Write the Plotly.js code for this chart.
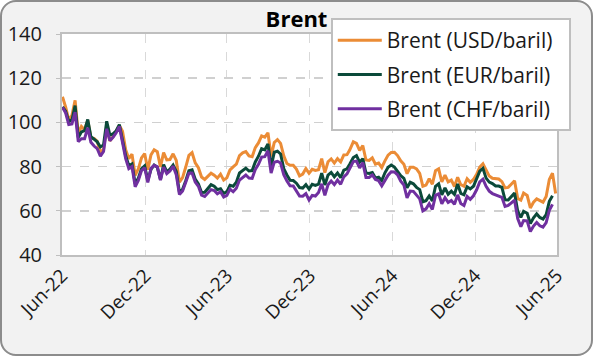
<!DOCTYPE html>
<html>
<head>
<meta charset="utf-8">
<script src="https://cdn.plot.ly/plotly-3.0.1.min.js"></script>
<style>
html,body{margin:0;padding:0;background:#ffffff;}
#frame{position:absolute;left:0;top:0;width:589px;height:352px;border:2px solid #8c8c8c;border-radius:16px;background:#f2f2f2;overflow:hidden;}
#chart{position:absolute;left:-2px;top:-2px;width:593px;height:356px;}
</style>
</head>
<body>
<div id="frame"><div id="chart"></div></div>
<script>
const dates = [
"2022-07-01","2022-07-08","2022-07-15","2022-07-22","2022-07-29","2022-08-05","2022-08-12","2022-08-19","2022-08-26","2022-09-02",
"2022-09-09","2022-09-16","2022-09-23","2022-09-30","2022-10-07","2022-10-14","2022-10-21","2022-10-28","2022-11-04","2022-11-11",
"2022-11-18","2022-11-25","2022-12-02","2022-12-09","2022-12-16","2022-12-23","2022-12-30",
"2023-01-06","2023-01-13","2023-01-20","2023-01-27","2023-02-03","2023-02-10","2023-02-17","2023-02-24","2023-03-03","2023-03-10",
"2023-03-17","2023-03-24","2023-03-31","2023-04-07","2023-04-14","2023-04-21","2023-04-28","2023-05-05","2023-05-12","2023-05-19",
"2023-05-26","2023-06-02","2023-06-09","2023-06-16","2023-06-23","2023-06-30","2023-07-07","2023-07-14","2023-07-21","2023-07-28",
"2023-08-04","2023-08-11","2023-08-18","2023-08-25","2023-09-01","2023-09-08","2023-09-15","2023-09-22","2023-09-29","2023-10-06",
"2023-10-13","2023-10-20","2023-10-27","2023-11-03","2023-11-10","2023-11-17","2023-11-24","2023-12-01","2023-12-08","2023-12-15",
"2023-12-22","2023-12-29",
"2024-01-05","2024-01-12","2024-01-19","2024-01-26","2024-02-02","2024-02-09","2024-02-16","2024-02-23","2024-03-01","2024-03-08",
"2024-03-15","2024-03-22","2024-03-28","2024-04-05","2024-04-12","2024-04-19","2024-04-26","2024-05-03","2024-05-10","2024-05-17",
"2024-05-24","2024-05-31","2024-06-07","2024-06-14","2024-06-21","2024-06-28","2024-07-05","2024-07-12","2024-07-19","2024-07-26",
"2024-08-02","2024-08-09","2024-08-16","2024-08-23","2024-08-30","2024-09-06","2024-09-13","2024-09-20","2024-09-27","2024-10-04",
"2024-10-11","2024-10-18","2024-10-25","2024-11-01","2024-11-08","2024-11-15","2024-11-22","2024-11-29","2024-12-06","2024-12-13",
"2024-12-20","2024-12-27",
"2025-01-03","2025-01-10","2025-01-17","2025-01-24","2025-01-31","2025-02-07","2025-02-14","2025-02-21","2025-02-28","2025-03-07",
"2025-03-14","2025-03-21","2025-03-28","2025-04-04","2025-04-11","2025-04-17","2025-04-25","2025-05-02","2025-05-09","2025-05-16",
"2025-05-23","2025-05-30","2025-06-06","2025-06-13","2025-06-20","2025-06-27"
];

const brentUSD = [
111.6,107.0,101.2,103.2,110.0,94.9,98.2,96.7,101.0,93.0,
92.8,91.4,86.2,88.0,97.9,91.6,93.5,95.8,98.6,96.0,
87.6,83.6,85.6,76.1,79.0,83.9,85.9,
78.6,85.3,87.6,86.7,79.9,86.4,83.0,83.2,85.8,82.8,
73.0,75.0,79.8,85.1,86.3,81.7,79.5,75.3,74.2,75.6,
77.0,76.1,74.8,76.6,73.9,74.9,78.5,79.9,81.1,85.0,
86.2,86.8,84.8,84.5,88.6,90.7,93.9,93.3,95.3,84.6,
90.9,92.2,90.5,84.9,81.4,80.6,80.6,78.9,75.8,76.6,
79.1,77.0,
78.8,78.3,78.6,83.6,77.3,82.2,83.5,81.6,83.6,82.1,
85.3,85.4,87.5,91.2,90.5,87.3,89.5,83.0,82.8,84.0,
81.1,81.6,79.6,82.6,85.2,86.4,86.5,85.0,82.6,81.1,
76.8,79.7,79.7,79.0,76.9,71.1,71.6,74.5,72.0,78.1,
79.0,73.1,76.1,73.1,73.9,71.0,75.2,71.8,71.1,74.5,
72.9,74.2,
76.5,79.8,81.3,78.5,75.7,74.7,74.7,74.4,73.2,70.4,
70.6,72.2,73.6,65.6,64.8,68.0,66.9,61.3,63.9,65.4,
64.8,63.9,66.5,74.2,77.0,67.8
];

const brentEUR = [
107.0,105.1,100.4,101.1,107.6,93.2,95.7,96.3,101.3,93.5,
92.4,91.2,88.9,89.8,100.5,94.3,94.8,96.2,99.0,92.7,
84.9,80.4,81.2,72.3,74.7,79.0,80.3,
73.8,78.7,80.7,79.7,74.1,80.9,77.6,78.8,80.7,77.8,
68.4,69.7,73.6,78.1,78.5,74.3,72.2,68.3,68.4,70.0,
71.8,71.1,69.6,70.0,67.8,68.7,71.5,71.1,72.9,77.1,
78.3,79.3,78.0,78.2,82.1,84.7,88.1,87.6,90.2,79.9,
86.5,87.0,85.7,79.1,76.2,73.8,73.7,72.5,70.5,70.3,
71.8,69.8,
72.0,71.5,72.1,77.0,71.7,76.2,77.4,75.4,77.1,75.0,
78.4,79.0,81.1,84.1,85.0,82.0,83.6,77.1,76.9,77.3,
74.8,75.2,73.7,77.2,79.7,80.7,79.8,77.9,75.9,74.7,
70.4,72.9,72.2,70.6,69.6,64.1,64.6,66.7,64.5,71.1,
72.2,67.2,70.4,67.5,68.9,67.4,72.1,67.9,67.3,70.9,
69.9,71.1,
74.2,77.9,79.2,74.8,73.0,72.3,71.2,71.2,70.6,65.0,
64.9,66.7,68.0,59.8,57.0,59.8,58.9,54.2,56.8,58.6,
57.0,56.3,58.3,64.3,66.8
];

const brentCHF = [
106.9,104.3,99.0,99.3,104.6,91.3,92.6,92.6,97.6,91.0,
89.3,88.1,84.7,86.9,97.1,91.7,93.3,95.3,98.2,90.3,
83.6,79.1,80.0,70.9,73.7,78.2,79.5,
72.8,79.2,80.6,79.9,73.9,79.8,76.8,78.0,80.2,76.3,
67.4,69.0,72.9,77.0,77.1,73.0,71.1,67.1,66.5,67.9,
69.6,69.2,67.7,68.6,66.2,67.0,69.8,68.6,70.2,73.9,
75.2,76.2,74.8,74.7,78.7,81.0,84.3,84.5,87.2,77.1,
82.0,82.4,81.6,76.3,73.5,71.3,71.2,68.9,66.7,66.6,
67.8,64.9,
67.0,66.7,68.3,72.2,67.0,71.8,73.5,71.9,73.9,72.0,
75.4,76.7,78.9,82.3,82.5,79.4,81.8,75.1,75.1,76.2,
74.2,73.6,71.3,73.6,76.1,77.7,77.6,76.3,73.4,71.7,
65.8,68.9,68.8,67.1,65.4,60.0,60.9,63.2,60.6,67.0,
67.7,63.2,65.9,63.8,64.7,63.0,67.2,63.3,62.4,66.5,
65.2,66.8,
69.5,73.1,74.3,71.1,68.9,67.8,67.2,66.8,66.1,62.0,
62.4,63.6,64.8,56.5,52.8,55.6,55.4,50.6,53.1,54.7,
53.2,52.6,54.6,60.2,62.9
];

const seriesNames = ["Brent (USD/baril)", "Brent (EUR/baril)", "Brent (CHF/baril)"];
const tickVals = ["2022-06-30","2022-12-31","2023-06-30","2023-12-31","2024-06-30","2024-12-31","2025-06-30"];
const tickText = ["Jun-22","Dec-22","Jun-23","Dec-23","Jun-24","Dec-24","Jun-25"];
const yTicks = [40,60,80,100,120,140];

const colors = ["#EB8C36", "#0B4A3A", "#7030A0"];
const series = [brentUSD, brentEUR, brentCHF];
const traces = series.map((vals, i) => ({
  type: "scatter",
  mode: "lines",
  x: dates.slice(0, vals.length),
  y: vals,
  name: seriesNames[i] + "\u00A0\u00A0",
  legendgroup: "g" + i,
  line: {color: colors[i], width: 3},
  hoverinfo: "skip"
}));

const font = "Open Sans, Noto Sans, DejaVu Sans, sans-serif";
const layout = {
  width: 593, height: 356,
  margin: {l: 62, r: 36, t: 34, b: 101, pad: 0},
  paper_bgcolor: "rgba(0,0,0,0)",
  plot_bgcolor: "#ffffff",
  font: {family: font, color: "#1a1a1a", size: 20},
  title: {text: "<b>Brent</b>", x: 0.5, xref: "container", xanchor: "center", y: 0.945, yref: "container", yanchor: "middle",
          font: {family: font, size: 22, color: "#000000"}},
  showlegend: true,
  legend: {
    x: 0.543, xanchor: "left", y: 1.072, yanchor: "top",
    bgcolor: "#ffffff", bordercolor: "#bfbfbf", borderwidth: 2,
    font: {family: font, size: 21, color: "#1a1a1a"},
    itemwidth: 44, tracegroupgap: 4, traceorder: "grouped"
  },
  xaxis: {
    type: "date",
    range: ["2022-06-30", "2025-06-30"],
    tickmode: "array", tickvals: tickVals, ticktext: tickText,
    tickangle: -45,
    tickfont: {family: font, size: 19, color: "#1a1a1a"},
    showgrid: true, gridcolor: "#d9d9d9", gridwidth: 1, griddash: "dash",
    showline: true, linecolor: "#bfbfbf", linewidth: 2, mirror: true,
    ticks: "", zeroline: false
  },
  yaxis: {
    range: [40, 140],
    tickmode: "array", tickvals: yTicks,
    tickfont: {family: font, size: 20, color: "#1a1a1a"},
    showgrid: true, gridcolor: "#d0d0d0", gridwidth: 1.5, griddash: "dash",
    showline: true, linecolor: "#bfbfbf", linewidth: 2, mirror: true,
    ticks: "outside", ticklen: 4, tickcolor: "#bfbfbf", tickwidth: 1,
    ticklabelstandoff: 10,
    zeroline: false
  }
};

Plotly.newPlot("chart", traces, layout, {staticPlot: true, displayModeBar: false});
</script>
</body>
</html>
